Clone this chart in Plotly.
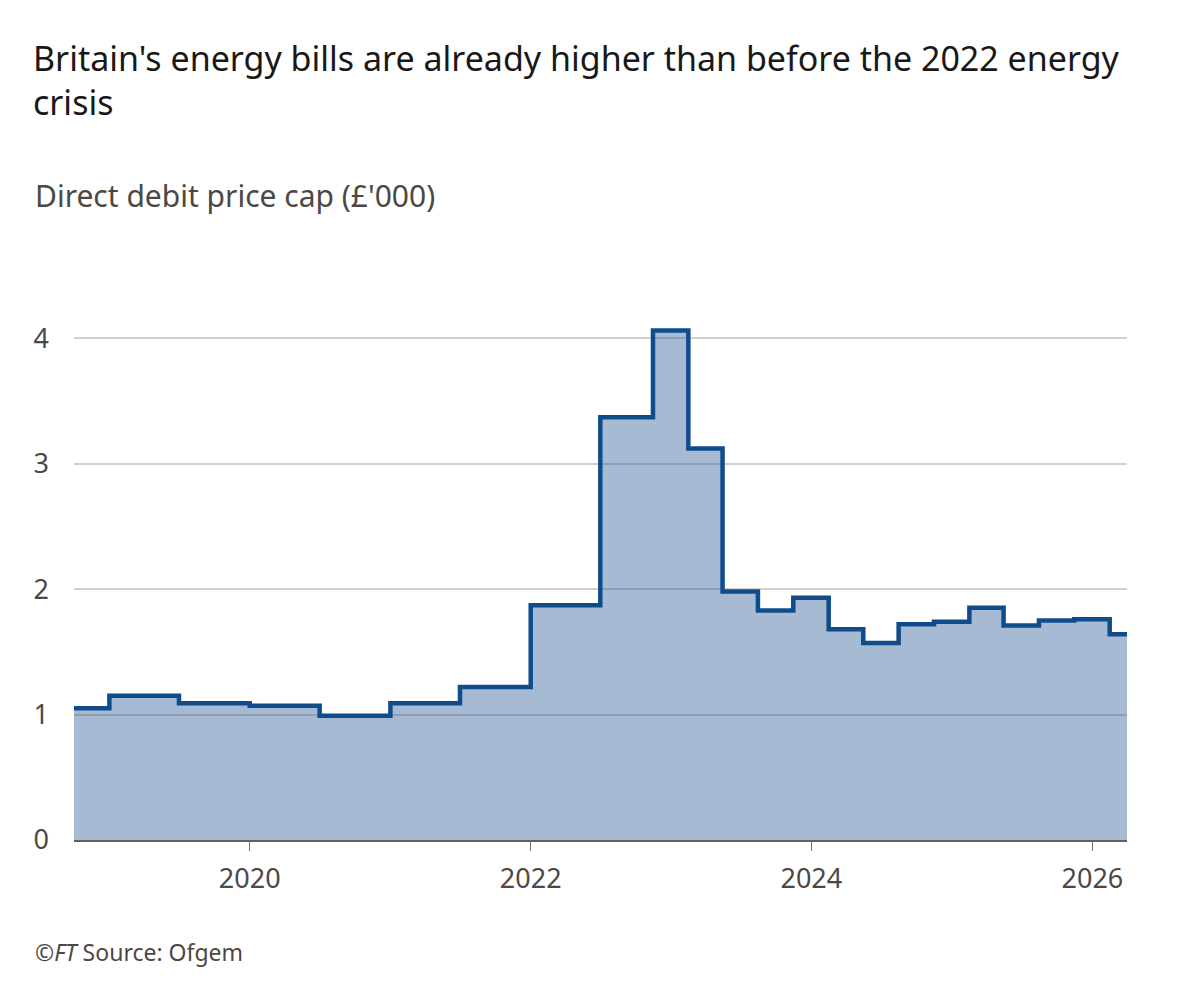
import plotly.graph_objects as go

# start of each price-cap period (last entry closes the final period)
period_start = [
    "2018-10-01", "2019-01-01", "2019-07-01", "2020-01-01", "2020-07-01",
    "2021-01-01", "2021-07-01", "2022-01-01", "2022-07-01", "2022-11-15",
    "2023-02-15", "2023-05-15", "2023-08-15", "2023-11-15", "2024-02-15",
    "2024-05-15", "2024-08-15", "2024-11-15", "2025-02-15", "2025-05-15",
    "2025-08-15", "2025-11-15", "2026-02-15", "2026-04-01",
]
# direct debit price cap, £'000
price_cap = [
    1.05, 1.15, 1.09, 1.07, 0.99,
    1.09, 1.22, 1.87, 3.37, 4.06,
    3.12, 1.98, 1.83, 1.93, 1.68,
    1.57, 1.72, 1.74, 1.85, 1.71,
    1.75, 1.76, 1.64, 1.64,
]
year_ticks = ["2020-01-01", "2022-01-01", "2024-01-01", "2026-01-01"]
year_labels = ["2020", "2022", "2024", "2026"]
y_ticks = [0, 1, 2, 3, 4]

FONT = "Noto Sans"
W, H = 1192, 991          # page has an 8px body margin
PLOT_H = 527

fig = go.Figure()
fig.add_trace(go.Scatter(
    x=period_start,
    y=price_cap,
    mode="lines",
    line=dict(shape="hv", color="#0f4c8c", width=4.5),
    fill="tozeroy",
    fillcolor="rgba(38, 88, 148, 0.41)",
    hoverinfo="x+y",
    showlegend=False,
))

fig.update_layout(
    width=W,
    height=H,
    paper_bgcolor="white",
    plot_bgcolor="white",
    margin=dict(l=66, r=73, t=305, b=159),
    font=dict(family=FONT, color="#4d4845"),
    title=dict(
        text="Britain's energy bills are already higher than before the 2022 energy<br>crisis",
        font=dict(family=FONT, size=34, color="#1a1817"),
        x=25 / W, xanchor="left", xref="container",
        y=1 - 63 / H, yanchor="top", yref="container",
    ),
    xaxis=dict(
        type="date",
        range=["2018-10-01", "2026-04-01"],
        tickvals=year_ticks,
        ticktext=year_labels,
        ticks="outside",
        ticklen=9,
        tickwidth=1,
        tickcolor="#77706b",
        showgrid=False,
        showline=True,
        linecolor="#66605c",
        linewidth=2,
        tickfont=dict(size=27, color="#4d4845"),
        ticklabelstandoff=5,
    ),
    yaxis=dict(
        range=[0, 4.2],
        tickvals=y_ticks,
        showgrid=True,
        gridcolor="#d9cec4",
        gridwidth=1.5,
        zeroline=False,
        showline=False,
        ticks="",
        tickfont=dict(size=27, color="#4d4845"),
        ticklabelstandoff=24,
    ),
    annotations=[
        dict(
            text="Direct debit price cap (£'000)",
            xref="paper", yref="paper", x=-41 / 1053, y=1 + (305 - 187) / PLOT_H,
            xanchor="left", yanchor="middle", showarrow=False,
            font=dict(family=FONT, size=30, color="#4d4845"),
        ),
        dict(
            text="©<i>FT</i> Source: Ofgem",
            xref="paper", yref="paper", x=-41 / 1053, y=-(944 - 832) / PLOT_H,
            xanchor="left", yanchor="middle", showarrow=False,
            font=dict(family=FONT, size=23, color="#4d4845"),
        ),
    ],
)

fig.write_html("out.html")
